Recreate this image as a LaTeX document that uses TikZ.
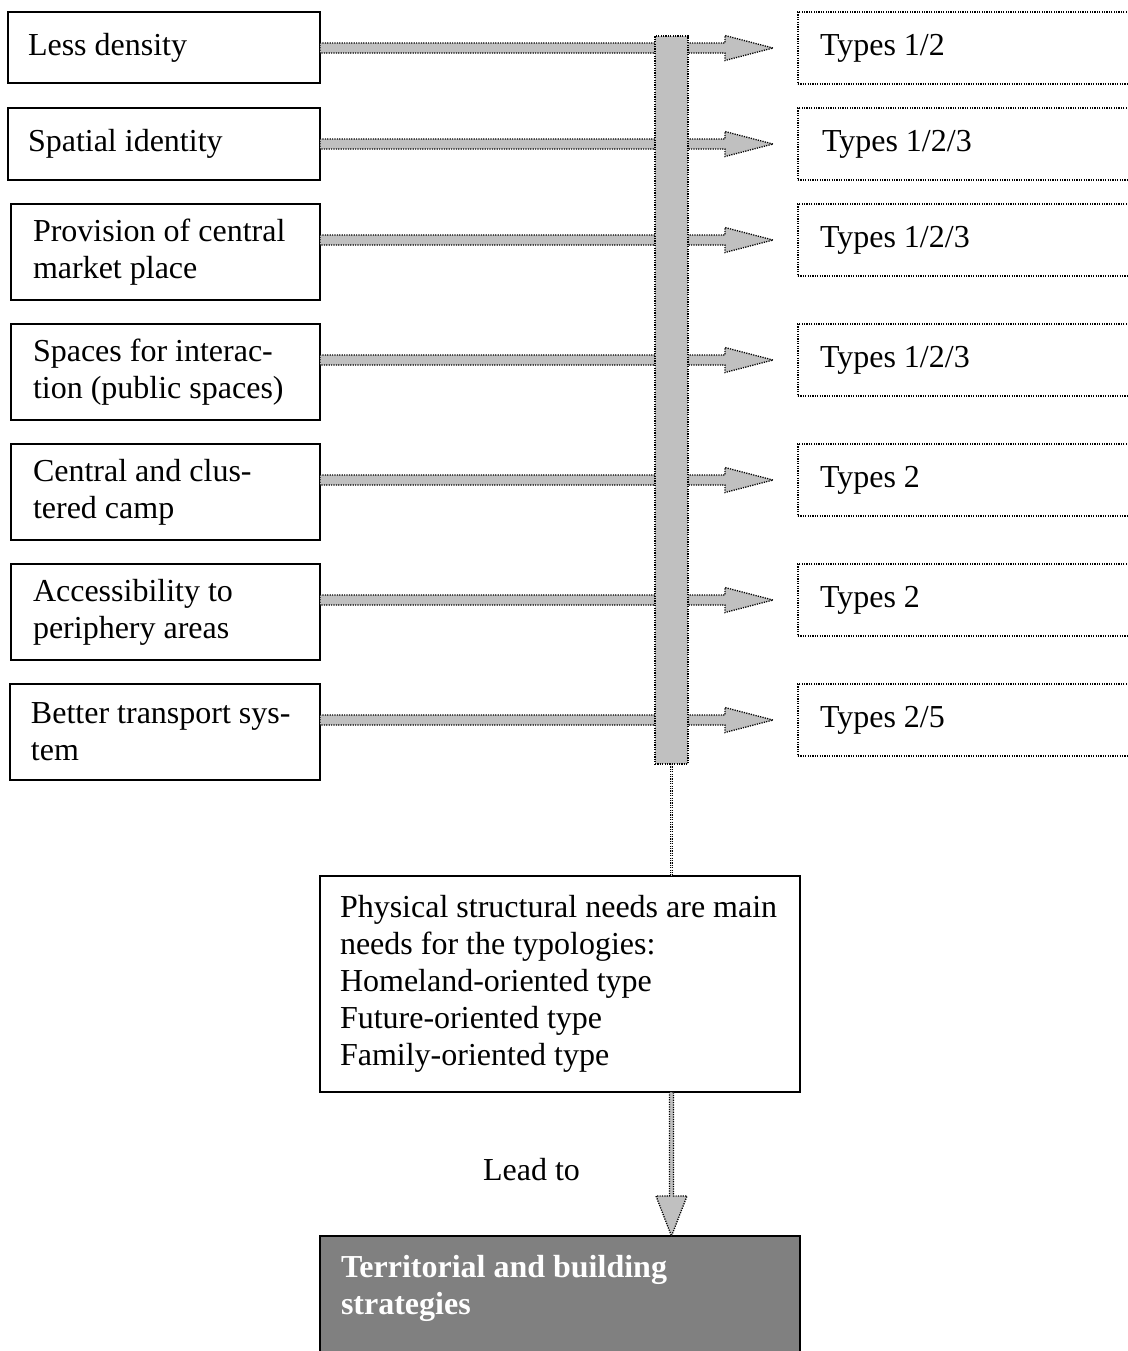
\documentclass[tikz,border=0pt]{standalone}
\usepackage{fontspec}
\setmainfont{Liberation Serif}
\usetikzlibrary{calc}
\definecolor{arrowgray}{HTML}{C0C0C0}
\definecolor{stratgray}{HTML}{808080}
\tikzset{
  basefont/.style={font=\fontsize{16}{18.5}\selectfont},
  dots/.style={line width=0.65pt, dash pattern=on 0.6pt off 0.6pt},
  needbox/.style={basefont, draw, line width=0.75pt, align=flush left, anchor=north west,
    outer sep=0pt, inner ysep=0pt},
  typebox/.style={basefont, draw, dots,
    align=flush left, anchor=north west, outer sep=0pt, inner ysep=0pt,
    inner xsep=11pt, text width=149pt, minimum height=36pt},
  fatarrow/.style={fill=arrowgray, draw, dots},
  barstyle/.style={fill=arrowgray, draw, dots,
    minimum width=16.5pt, minimum height=364pt, inner sep=0pt, outer sep=0pt},
  thinlink/.style={draw, dots, double=arrowgray, double distance=0.6pt},
}
\begin{document}
\begin{tikzpicture}[x=0.5pt, y=-0.5pt]
\useasboundingbox (0,0) rectangle (1128,1351);
\clip (0,0) rectangle (1128,1351);

% needs on the left
\node[needbox, inner xsep=10pt, text width=136pt, minimum height=35.5pt] (l1) at (8,12) {Less density};
\node[needbox, inner xsep=10pt, text width=136pt, minimum height=36pt] (l2) at (8,108) {Spatial identity};
\node[needbox, inner xsep=11pt, text width=132.5pt, minimum height=48pt] (l3) at (11,204) {Provision of central\\market place};
\node[needbox, inner xsep=11pt, text width=132.5pt, minimum height=48pt] (l4) at (11,324) {Spaces for interac-\\tion (public spaces)};
\node[needbox, inner xsep=11pt, text width=132.5pt, minimum height=48pt] (l5) at (11,444) {Central and clus-\\tered camp};
\node[needbox, inner xsep=11pt, text width=132.5pt, minimum height=48pt] (l6) at (11,564) {Accessibility to\\periphery areas};
\node[needbox, inner xsep=10.5pt, text width=134pt, minimum height=48pt] (l7) at (10,684) {Better transport sys-\\tem};

% types on the right
\node[typebox] (r1) at (798,12) {Types 1/2};
\node[typebox] (r2) at (798,108) {\hspace{1pt}Types 1/2/3};
\node[typebox] (r3) at (798,204) {Types 1/2/3};
\node[typebox] (r4) at (798,324) {Types 1/2/3};
\node[typebox] (r5) at (798,444) {Types 2};
\node[typebox] (r6) at (798,564) {Types 2};
\node[typebox] (r7) at (798,684) {Types 2/5};

% block arrows from needs to types
\foreach \i in {1,...,7} {
  \draw[fatarrow]
    ($(l\i.east |- r\i.west)+(0,-5)$) -- ($(r\i.west)+(-73,-5)$) -- ($(r\i.west)+(-73,-12.5)$)
    -- ($(r\i.west)+(-25,0)$) -- ($(r\i.west)+(-73,12.5)$) -- ($(r\i.west)+(-73,5)$)
    -- ($(l\i.east |- r\i.west)+(0,5)$) -- cycle;
}

% collecting bar
\node[barstyle] (bar) at (671.5,400) {};

% summary box
\node[needbox, inner xsep=10pt, text width=220pt, minimum height=108pt] (phys) at (320,876)
  {Physical structural needs are main\\needs for the typologies:\\Homeland-oriented type\\Future-oriented type\\Family-oriented type};

% strategies box
\node[basefont, draw, line width=0.75pt, fill=stratgray, text=white, align=flush left, anchor=north west,
  outer sep=0pt, inner xsep=10.5pt, inner ysep=5.5pt, text width=219pt,
  text height=15pt, text depth=80pt] (strat) at (320,1236)
  {\bfseries Territorial and building\\strategies};

\draw[thinlink] (bar.south) -- (bar.south |- phys.north);

\draw[fatarrow]
  ($(bar.south |- phys.south)+(-2,0)$) -- ($(bar.south |- strat.north)+(-2,-40)$)
  -- ($(bar.south |- strat.north)+(-15.5,-40)$) -- (bar.south |- strat.north)
  -- ($(bar.south |- strat.north)+(15.5,-40)$) -- ($(bar.south |- strat.north)+(2,-40)$)
  -- ($(bar.south |- phys.south)+(2,0)$) -- cycle;

\node[basefont, anchor=base, inner sep=0pt] (lead) at (531.5,1180) {Lead to};
\end{tikzpicture}
\end{document}
